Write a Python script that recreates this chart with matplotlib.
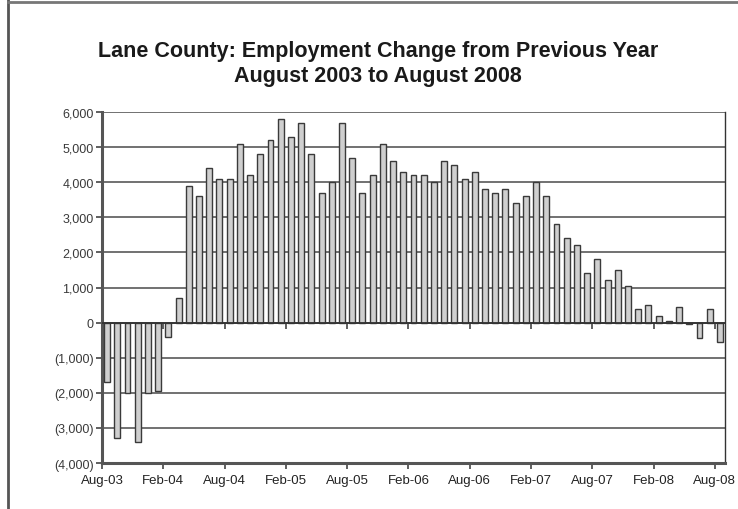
import matplotlib
matplotlib.use("Agg")
import matplotlib.pyplot as plt
from matplotlib.lines import Line2D
import numpy as np

plt.rcParams['font.family'] = ['Liberation Sans', 'DejaVu Sans']

title = "Lane County: Employment Change from Previous Year\nAugust 2003 to August 2008"

# Monthly values, Aug-03 .. Aug-08 (61 months)
changes = [
    -1700, -3300, -2000, -3400, -2000, -1950,          # Aug-03 .. Jan-04
    -400, 700, 3900, 3600, 4400, 4100,                 # Feb-04 .. Jul-04
    4100, 5100, 4200, 4800, 5200, 5800,                # Aug-04 .. Jan-05
    5300, 5700, 4800, 3700, 4000, 5700,                # Feb-05 .. Jul-05
    4700, 3700, 4200, 5100, 4600, 4300,                # Aug-05 .. Jan-06
    4200, 4200, 4000, 4600, 4500, 4100,                # Feb-06 .. Jul-06
    4300, 3800, 3700, 3800, 3400, 3600,                # Aug-06 .. Jan-07
    4000, 3600, 2800, 2400, 2200, 1400,                # Feb-07 .. Jul-07
    1800, 1200, 1500, 1050, 400, 500,                  # Aug-07 .. Jan-08
    200, 50, 450, -50, -450, 400,                      # Feb-08 .. Jul-08
    -550,                                              # Aug-08
]
tick_labels = ["Aug-03", "Feb-04", "Aug-04", "Feb-05", "Aug-05", "Feb-06",
               "Aug-06", "Feb-07", "Aug-07", "Feb-08", "Aug-08"]
y_ticks = [-4000, -3000, -2000, -1000, 0, 1000, 2000, 3000, 4000, 5000, 6000]

def fmt(v):
    return f"({abs(v):,})" if v < 0 else f"{v:,}"

fig = plt.figure(figsize=(7.38, 5.10), dpi=100)
ax = fig.add_axes([102/738, 1-464/510, (725-102)/738, (464-113)/510])

n = len(changes)
x = np.arange(n) + 0.5
ax.bar(x, changes, width=0.58, color="#cfcfcf", edgecolor="#3a3a3a", linewidth=1.0, zorder=3)

ax.set_xlim(0, n)
ax.set_ylim(-4000, 6000)
ax.set_yticks(y_ticks)
ax.set_yticklabels([fmt(v) for v in y_ticks], fontsize=9, color="#3a3a3a")
ax.set_xticks(np.arange(0, n, 6))
ax.set_xticklabels(tick_labels, fontsize=9.5, color="#222222")
ax.grid(axis="y", color="#4a4a4a", linewidth=1.1, zorder=1)
ax.axhline(0, color="#333333", linewidth=1.3, zorder=4)

for side in ["left", "bottom"]:
    ax.spines[side].set_linewidth(2.2)
    ax.spines[side].set_color("#555555")
ax.spines["right"].set_linewidth(1.0)
ax.spines["right"].set_color("#333333")
ax.spines["top"].set_visible(False)
ax.tick_params(axis="both", direction="out", length=4, width=1.2, color="#444444")
ax.tick_params(axis="x", pad=4)
ax.tick_params(axis="y", pad=2)

sec = ax.secondary_xaxis(0.4)
sec.set_xticks(np.arange(0, n, 6))
sec.set_xticklabels([])
sec.spines["bottom"].set_visible(False)
sec.tick_params(direction="out", length=4, width=1.2, color="#444444")

fig.text(0.512, 1-64/510, title, ha="center", va="center", fontsize=15.5,
         fontweight="bold", color="#1a1a1a", linespacing=1.25)

# scanned page frame
fig.add_artist(Line2D([8/738, 8/738], [0.0, 1.0], color="#555555", linewidth=2.0))
fig.add_artist(Line2D([8/738, 1.0], [1-3/510, 1-3/510], color="#777777", linewidth=2.0))

fig.savefig("out.png", dpi=100)
